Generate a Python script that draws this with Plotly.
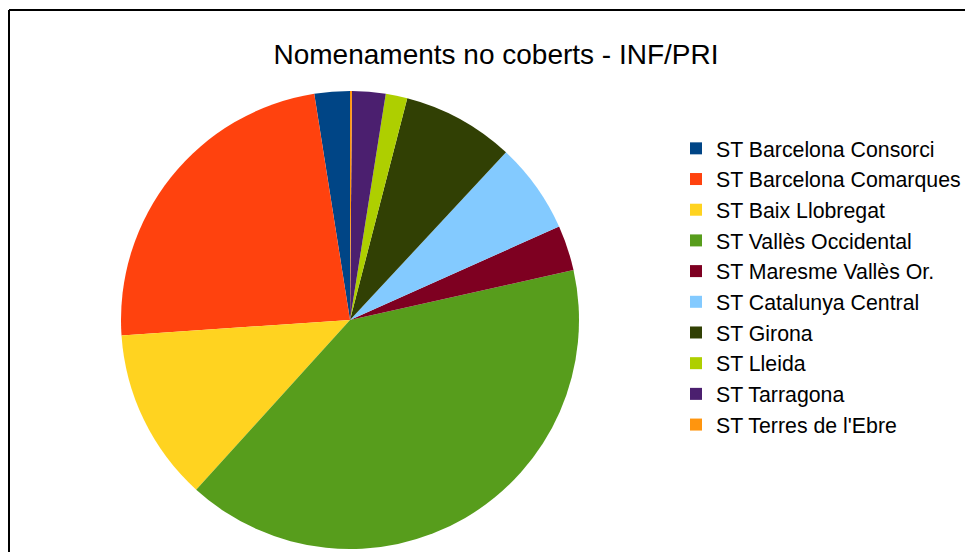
import plotly.graph_objects as go

categories = [
    "ST Barcelona Consorci",
    "ST Barcelona Comarques",
    "ST Baix Llobregat",
    "ST Vallès Occidental",
    "ST Maresme Vallès Or.",
    "ST Catalunya Central",
    "ST Girona",
    "ST Lleida",
    "ST Tarragona",
    "ST Terres de l'Ebre",
]
values = [18, 170, 88, 290, 23, 46, 57, 11, 17, 1]
colors = ["#004586", "#ff420e", "#ffd320", "#579d1c", "#7e0021",
          "#83caff", "#314004", "#aecf00", "#4b1f6f", "#ff950e"]

# page body has an 8px default margin; figure coordinates = page - 8
OFF = 8
W, H = 973 - OFF, 552 - OFF
cx, cy, r = 350 - OFF, 320 - OFF, 229

# plotly puts the END of the first slice at `rotation` when counterclockwise;
# shift so the first slice STARTS at 12 o'clock
first_angle = 360.0 * values[0] / sum(values)

fig = go.Figure(go.Pie(
    labels=categories,
    values=values,
    marker=dict(colors=colors, line=dict(width=0)),
    sort=False,
    direction="counterclockwise",
    rotation=-first_angle,
    textinfo="none",
    hoverinfo="label+value+percent",
    domain=dict(x=[(cx - r) / W, (cx + r) / W],
                y=[max(0, (H - cy - r) / H), (H - cy + r) / H]),
))

fig.update_layout(
    width=W, height=H,
    margin=dict(l=0, r=0, t=0, b=0),
    paper_bgcolor="white",
    plot_bgcolor="white",
    font=dict(family="Liberation Sans, Arial, sans-serif", color="#000000"),
    title=dict(text="Nomenaments no coberts - INF/PRI",
               x=(496 - OFF) / W, xanchor="center", xref="paper",
               y=1 - (54 - OFF) / H, yanchor="middle", yref="container",
               font=dict(size=28, color="#000000")),
    showlegend=True,
    legend=dict(x=(676 - OFF) / W, xanchor="left", y=1 - (128 - OFF) / H, yanchor="top",
                font=dict(size=21.3, color="#000000"),
                itemwidth=30, bgcolor="rgba(0,0,0,0)"),
    shapes=[
        dict(type="line", xref="paper", yref="paper",
             x0=(9 - OFF) / W, x1=1.02, y0=1 - (10 - OFF) / H, y1=1 - (10 - OFF) / H,
             line=dict(color="#000000", width=2)),
        dict(type="line", xref="paper", yref="paper",
             x0=(9 - OFF) / W, x1=(9 - OFF) / W, y0=1 - (10 - OFF) / H, y1=-0.02,
             line=dict(color="#000000", width=2)),
    ],
)

fig.write_html("out.html")
